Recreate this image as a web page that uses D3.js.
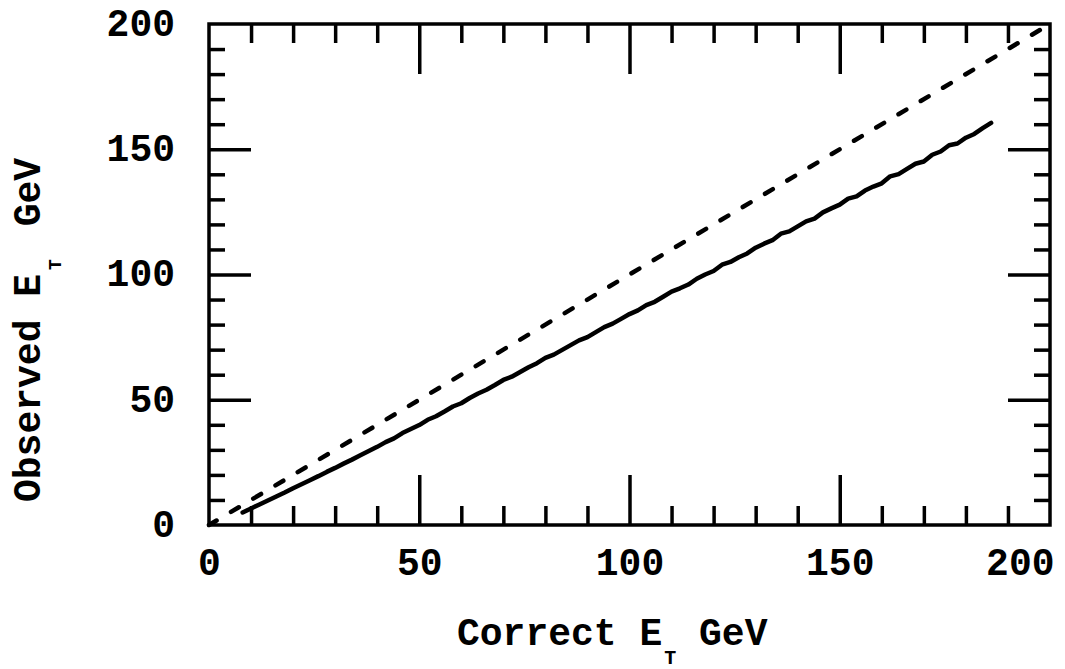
<!DOCTYPE html>
<html>
<head>
<meta charset="utf-8">
<script src="https://cdn.jsdelivr.net/npm/d3@7"></script>
<style>
  html, body { margin: 0; padding: 0; background: #fff; }
  svg { display: block; }
  text { font-family: "Liberation Mono", "DejaVu Sans Mono", monospace; font-weight: bold; fill: #000; }
</style>
</head>
<body>
<svg id="chart" width="1065" height="669"></svg>
<script>
// ---- data ----
const xTickLabels = [0, 50, 100, 150, 200];
const yTickLabels = [0, 50, 100, 150, 200];
const minorTicks = [10, 20, 30, 40, 60, 70, 80, 90, 110, 120, 130, 140, 160, 170, 180, 190];
const majorTicks = [50, 100, 150];
const diagonalX = [0, 200];
const diagonalY = [0, 200];
const solidX = [8,10,12,14,16,18,20,22,24,26,28,30,32,34,36,38,40,42,44,46,48,50,52,54,56,58,60,62,64,66,68,70,72,74,76,78,80,82,84,86,88,90,92,94,96,98,100,102,104,106,108,110,112,114,116,118,120,122,124,126,128,130,132,134,136,138,140,142,144,146,148,150,152,154,156,158,160,162,164,166,168,170,172,174,176,178,180,182,184,186];
const solidY = [5.0,6.6,8.2,9.8,11.4,13.0,14.7,16.3,17.9,19.5,21.2,22.8,24.5,26.1,27.8,29.5,31.2,
  33.1,34.6,36.7,38.3,39.9,42.0,43.4,45.3,47.3,48.6,50.7,52.5,54.0,55.9,57.9,59.2,61.1,63.0,64.6,66.7,68.0,69.9,71.8,73.7,75.0,77.0,79.0,80.4,82.3,
  84.2,85.7,87.8,89.1,91.1,93.2,94.5,96.0,98.3,100.0,101.4,103.9,105.0,106.9,108.4,110.7,112.3,113.7,116.3,117.2,119.2,121.2,122.3,124.8,126.4,127.9,130.3,131.2,133.5,135.1,136.4,139.2,140.1,142.2,144.2,145.1,147.8,149.1,151.6,152.3,154.6,156.1,158.4,160.5];

// ---- layout ----
const L = 209, R = 1050, T = 24, B = 525;
const x = d3.scaleLinear().domain([0, 200]).range([L, R]);
const y = d3.scaleLinear().domain([0, 200]).range([B, T]);
const svg = d3.select("#chart");
const FS = 38;
const AX_W = 3.5;

function styleTicks(g) {
  g.select(".domain").remove();
  g.selectAll(".tick line").attr("stroke", "#000").attr("stroke-width", AX_W);
  g.selectAll(".tick text").remove();
}

// ticks on all four sides
const minorLen = 19, majorLen = 50, yMinorLen = 16, yMajorLen = 42;
[[minorTicks, minorLen], [majorTicks, majorLen]].forEach(([vals, len]) => {
  svg.append("g").attr("transform", `translate(0,${B})`)
    .call(d3.axisBottom(x).tickValues(vals).tickSize(-len)).call(styleTicks);
  svg.append("g").attr("transform", `translate(0,${T})`)
    .call(d3.axisTop(x).tickValues(vals).tickSize(-len)).call(styleTicks);
});
[[minorTicks, yMinorLen], [majorTicks, yMajorLen]].forEach(([vals, len]) => {
  svg.append("g").attr("transform", `translate(${L},0)`)
    .call(d3.axisLeft(y).tickValues(vals).tickSize(-len)).call(styleTicks);
  svg.append("g").attr("transform", `translate(${R},0)`)
    .call(d3.axisRight(y).tickValues(vals).tickSize(-len)).call(styleTicks);
});

// frame
svg.append("rect").attr("x", L).attr("y", T).attr("width", R - L).attr("height", B - T)
  .attr("fill", "none").attr("stroke", "#000").attr("stroke-width", AX_W);

// tick labels
const gx = svg.append("g").attr("transform", `translate(0,${B})`)
  .call(d3.axisBottom(x).tickValues(xTickLabels).tickSize(0).tickFormat(d3.format("d")));
gx.select(".domain").remove();
gx.selectAll(".tick text").attr("y", 50).attr("dy", 0)
  .style("font-size", FS + "px").style("font-family", "Liberation Mono").style("font-weight", "bold")
  .attr("text-anchor", d => d === 200 ? "end" : "middle")
  .attr("x", d => d === 200 ? (R + 4 - x(200)) : 0);

const gy = svg.append("g").attr("transform", `translate(${L},0)`)
  .call(d3.axisLeft(y).tickValues(yTickLabels).tickSize(0).tickFormat(d3.format("d")));
gy.select(".domain").remove();
gy.selectAll(".tick text").attr("x", -34).attr("dy", "0.3em")
  .style("font-size", FS + "px").style("font-family", "Liberation Mono").style("font-weight", "bold");

// dashed diagonal
const line = d3.line().x(d => x(d[0])).y(d => y(d[1]));
svg.append("path").datum(d3.zip(diagonalX, diagonalY)).attr("d", line)
  .attr("fill", "none").attr("stroke", "#000").attr("stroke-width", 4.5)
  .attr("stroke-linecap", "round").attr("stroke-dasharray", "9.1 16.8").attr("stroke-dashoffset", 0.3);

// solid curve
svg.append("path").datum(d3.zip(solidX, solidY)).attr("d", line)
  .attr("fill", "none").attr("stroke", "#000").attr("stroke-width", 4.5)
  .attr("stroke-linejoin", "round").attr("stroke-linecap", "round");

// axis titles
const xt = svg.append("text").attr("x", 457).attr("y", 645).style("font-size", FS + "px");
xt.append("tspan").text("Correct E");
xt.append("tspan").attr("dy", 19).attr("dx", 2).style("font-size", "20px").text("T");
xt.append("tspan").attr("dy", -19).attr("dx", 0).text(" GeV");

const yt = svg.append("text").attr("transform", "translate(40,502) rotate(-90)").style("font-size", FS + "px");
yt.append("tspan").text("Observed E");
yt.append("tspan").attr("dy", 21).attr("dx", 4).style("font-size", "18px").text("T");
yt.append("tspan").attr("dy", -21).attr("dx", 10).text(" GeV");
</script>
</body>
</html>
